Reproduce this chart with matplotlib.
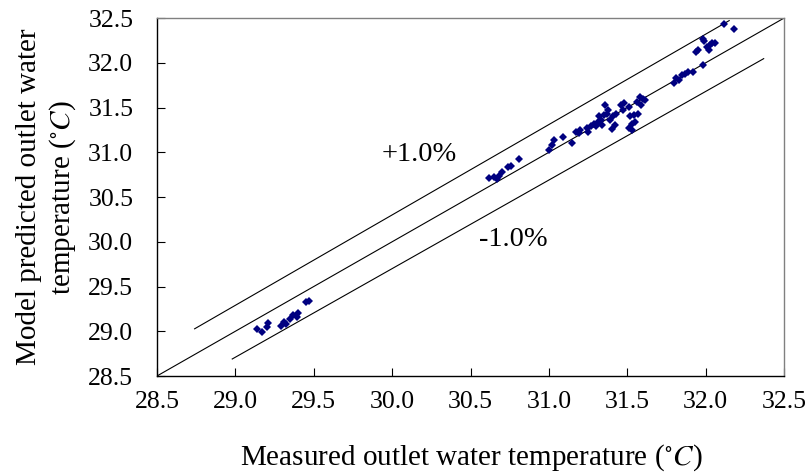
import numpy as np
import matplotlib as mpl
mpl.use('Agg')
import matplotlib.pyplot as plt

plt.rcParams['font.family'] = ['Liberation Serif', 'DejaVu Serif']
plt.rcParams['mathtext.fontset'] = 'stix'

# measured vs model predicted outlet water temperature (deg C)
measured = [
    29.14, 29.17, 29.20, 29.21, 29.29, 29.31, 29.32, 29.35, 29.37, 29.39, 29.40, 29.45, 29.47,
    30.62, 30.65, 30.67, 30.68, 30.70, 30.74, 30.76, 30.81,
    31.00, 31.02, 31.03, 31.09, 31.15, 31.17, 31.19, 31.20, 31.24, 31.25, 31.27, 31.29,
    31.30, 31.31, 31.32, 31.33, 31.35, 31.36, 31.37, 31.38, 31.39, 31.41, 31.43, 31.46,
    31.47, 31.48, 31.51, 31.52, 31.53, 31.54, 31.55, 31.56, 31.57, 31.58, 31.59, 31.60,
    31.61, 31.51, 31.53, 31.42, 31.40, 31.34,
    31.80, 31.81, 31.83, 31.85, 31.87, 31.89, 31.92, 31.98,
    31.94, 31.95, 31.98, 31.99, 32.01, 32.02, 32.03, 32.04, 32.06,
    32.12, 32.18,
]
predicted = [
    29.02, 28.99, 29.05, 29.09, 29.06, 29.10, 29.08, 29.14, 29.18, 29.16, 29.20, 29.33, 29.34,
    30.71, 30.72, 30.70, 30.74, 30.78, 30.83, 30.85, 30.93,
    31.03, 31.08, 31.14, 31.17, 31.10, 31.23, 31.22, 31.25, 31.27, 31.23, 31.29, 31.32,
    31.29, 31.34, 31.40, 31.36, 31.42, 31.53, 31.43, 31.47, 31.36, 31.40, 31.43, 31.53,
    31.47, 31.55, 31.51, 31.40, 31.32, 31.42, 31.34, 31.56, 31.43, 31.62, 31.53, 31.60,
    31.58, 31.27, 31.25, 31.30, 31.26, 31.31,
    31.77, 31.83, 31.81, 31.86, 31.88, 31.90, 31.90, 31.97,
    32.12, 32.14, 32.27, 32.24, 32.18, 32.14, 32.20, 32.22, 32.22,
    32.43, 32.38,
]

ticks = [28.5, 29.0, 29.5, 30.0, 30.5, 31.0, 31.5, 32.0, 32.5]

# x-ranges of the 1:1 and +/-1% lines
diag_x = np.array([28.5, 32.5])
plus_x = np.array([28.74, 32.15])
minus_x = np.array([28.98, 32.37])

fig = plt.figure(figsize=(8.05, 4.75), dpi=100)
ax = fig.add_axes([0.195, 0.2084, 0.779, 0.7536])

ax.plot(diag_x, diag_x, color='black', lw=0.8)
ax.plot(plus_x, plus_x * 1.01, color='black', lw=0.8)
ax.plot(minus_x, minus_x * 0.99, color='black', lw=0.8)

ax.plot(measured, predicted, 'D', color='#000080', markersize=3.6, markeredgewidth=0)

ax.text(30.17, 30.97, '+1.0%', fontsize=20.5, ha='center', va='center')
ax.text(30.77, 30.02, '-1.0%', fontsize=20.5, ha='center', va='center')

ax.set_xlim(28.5, 32.5)
ax.set_ylim(28.5, 32.5)
ax.set_xticks(ticks)
ax.set_yticks(ticks)
ax.set_xticklabels(['%.1f' % t for t in ticks])
ax.set_yticklabels(['%.1f' % t for t in ticks])
ax.tick_params(direction='in', length=6, width=0.8, labelsize=18.5)
ax.tick_params(axis='x', pad=11)
ax.tick_params(axis='y', pad=17)

for side in ('top', 'right'):
    ax.spines[side].set_color('#808080')
for s in ax.spines.values():
    s.set_linewidth(1.0)

fig.text(0.586, 0.036, r'Measured outlet water temperature ($^{\circ}C$)', fontsize=21,
         ha='center', va='center')
fig.text(0.058, 0.585, 'Model predicted outlet water\n' + r'temperature ($^{\circ}C$)', fontsize=21,
         ha='center', va='center', rotation=90, linespacing=1.25)

fig.savefig('out.png', dpi=100)
